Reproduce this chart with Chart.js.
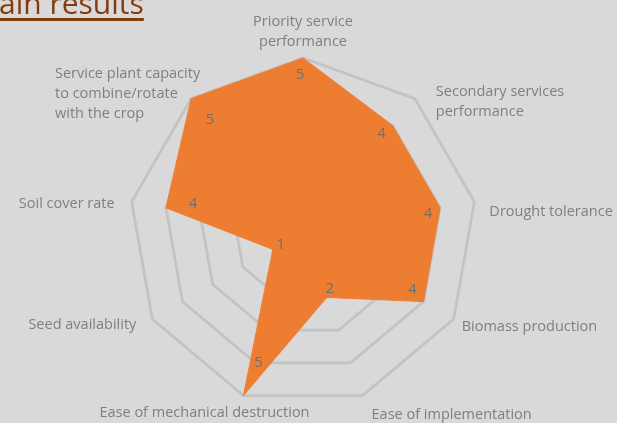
<!DOCTYPE html>
<html>
<head>
<meta charset="utf-8">
<script src="https://cdn.jsdelivr.net/npm/chart.js@4"></script>
<style>
  html, body { margin: 0; padding: 0; background: #d9d9d9; overflow: hidden; }
  #wrap { position: relative; width: 617px; height: 423px; }
  #title {
    position: absolute; left: -28px; top: -18px;
    font: 30px "Open Sans", sans-serif; color: #843c0c;
    text-decoration: underline; text-decoration-thickness: 3px;
    text-underline-offset: 4px; white-space: nowrap;
  }
  canvas { position: absolute; left: 0; top: 0; }
</style>
</head>
<body>
<div id="wrap">
  <canvas id="radar" width="617" height="423"></canvas>
  <div id="title">Main results</div>
</div>
<script>
// ---- data ----
const categories = [
  ["Priority service", "performance"],
  ["Secondary services", "performance"],
  ["Drought tolerance"],
  ["Biomass production"],
  ["Ease of implementation"],
  ["Ease of mechanical destruction"],
  ["Seed availability"],
  ["Soil cover rate"],
  ["Service plant capacity", "to combine/rotate", "with the crop"]
];
const scores = [5, 4, 4, 4, 2, 5, 1, 4, 5];
const scaleMax = 5;

// ---- label placement (style only) ----
// [dx, dy, align] relative to the outer grid vertex
const catLabelPlace = [
  [0, -26, "center"],
  [21, 3, "left"],
  [15, 10, "left"],
  [8, 8, "left"],
  [9, 19, "left"],
  [-39, 17, "center"],
  [-16, 6, "right"],
  [-17, 2, "right"],
  [9, -5, "blockright"]
];
// [dx, dy] relative to the data vertex
const valueLabelShift = [
  [-3, 17], [-11, 8], [-12, 6], [-11, -12], [3, -9],
  [15, -33], [8, -5], [27, -4], [19, 21]
];

/** ---------------- Labels plugin ---------------- **/
const labelsPlugin = {
  id: "labels",
  afterDatasetsDraw(chart) {
    const ctx = chart.ctx;
    const scale = chart.scales.r;
    const outer = scale.drawingArea;
    ctx.save();
    ctx.textBaseline = "middle";

    // category labels
    ctx.font = '14.5px "Open Sans"';
    ctx.fillStyle = "#7f7f7f";
    const lineH = 20;
    categories.forEach((lines, i) => {
      const p = scale.getPointPosition(i, outer);
      const [dx, dy, align] = catLabelPlace[i];
      const x = p.x + dx;
      const y = p.y + dy - (lines.length - 1) * lineH / 2;
      let tx = x;
      if (align === "blockright") {
        const w = Math.max(...lines.map(l => ctx.measureText(l).width));
        tx = x - w;
        ctx.textAlign = "left";
      } else {
        ctx.textAlign = align;
      }
      lines.forEach((l, k) => ctx.fillText(l, tx, y + k * lineH));
    });

    // value labels
    ctx.font = '15px "Open Sans"';
    ctx.fillStyle = "#6f6f6f";
    ctx.textAlign = "center";
    const meta = chart.getDatasetMeta(0);
    meta.data.forEach((pt, i) => {
      const [dx, dy] = valueLabelShift[i];
      ctx.fillText(String(scores[i]), pt.x + dx, pt.y + dy);
    });
    ctx.restore();
  }
};

new Chart(document.getElementById("radar"), {
  type: "radar",
  data: {
    labels: categories,
    datasets: [{
      data: scores,
      backgroundColor: "#ed7d31",
      borderColor: "#ed7d31",
      borderWidth: 1,
      pointRadius: 0,
      pointHoverRadius: 0
    }]
  },
  options: {
    responsive: false,
    animation: false,
    devicePixelRatio: 1,
    layout: { padding: { left: 129, right: 140, top: 58, bottom: 17 } },
    plugins: { legend: { display: false }, tooltip: { enabled: false } },
    scales: {
      r: {
        min: 0,
        max: scaleMax,
        ticks: { stepSize: 1, display: false },
        grid: { color: "#c3c3c3", lineWidth: 2.75 },
        angleLines: { display: false },
        pointLabels: { display: false }
      }
    }
  },
  plugins: [labelsPlugin]
});
</script>
</body>
</html>
